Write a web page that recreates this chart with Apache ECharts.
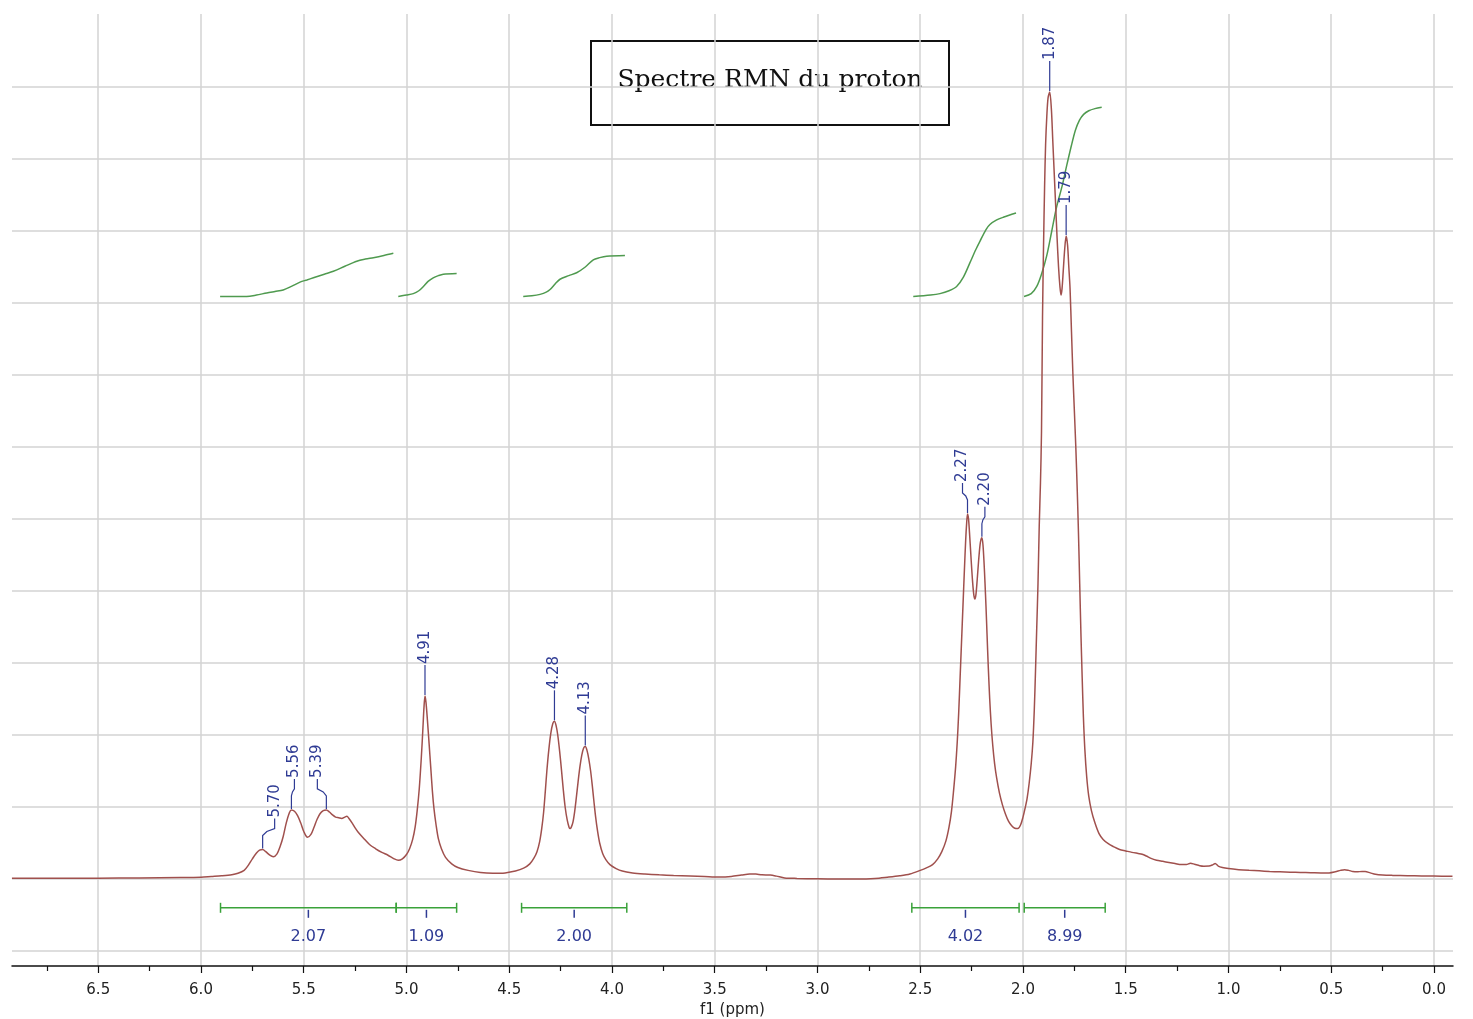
<!DOCTYPE html>
<html>
<head>
<meta charset="utf-8">
<title>Spectre RMN du proton</title>
<script src="https://cdn.jsdelivr.net/npm/echarts@6.0.0/dist/echarts.min.js"></script>
<style>
html, body { margin: 0; padding: 0; background: #ffffff; }
#chart { width: 1473px; height: 1019px; }
</style>
</head>
<body>
<div id="chart"></div>
<script>
// 1H spectrum trace: chemical shift (ppm) and intensity (one unit = one grid row)
const shift = [
  6.92, 6.70, 6.50, 6.30, 6.10, 6.00, 5.95, 5.90, 5.85, 5.82, 5.79, 5.77, 5.75, 5.73, 5.715, 5.70,
  5.685, 5.665, 5.648, 5.63, 5.615, 5.60, 5.585, 5.57, 5.56, 5.545, 5.53, 5.515, 5.50, 5.482, 5.465,
  5.45, 5.435, 5.42, 5.405, 5.39, 5.375, 5.36, 5.345, 5.33, 5.315, 5.30, 5.29, 5.28, 5.265, 5.25,
  5.235, 5.21, 5.18, 5.15, 5.12, 5.09, 5.06, 5.04, 5.02, 5.00, 4.985, 4.97, 4.958, 4.948, 4.938,
  4.928, 4.92, 4.915, 4.91, 4.905, 4.898, 4.89, 4.882, 4.874, 4.866, 4.856, 4.845, 4.83, 4.81, 4.78,
  4.75, 4.70, 4.64, 4.58, 4.52, 4.47, 4.43, 4.40, 4.38, 4.365, 4.352, 4.342, 4.333, 4.325, 4.317,
  4.308, 4.298, 4.288, 4.28, 4.272, 4.264, 4.255, 4.246, 4.237, 4.228, 4.218, 4.209, 4.204, 4.198,
  4.19, 4.182, 4.174, 4.165, 4.156, 4.147, 4.138, 4.13, 4.122, 4.113, 4.104, 4.096, 4.088, 4.08,
  4.07, 4.06, 4.045, 4.03, 4.01, 3.98, 3.95, 3.90, 3.84, 3.77, 3.70, 3.62, 3.55, 3.48, 3.42, 3.37,
  3.33, 3.30, 3.27, 3.23, 3.20, 3.16, 3.10, 3.00, 2.90, 2.80, 2.72, 2.66, 2.60, 2.55, 2.50, 2.47,
  2.44, 2.415, 2.395, 2.375, 2.36, 2.348, 2.338, 2.328, 2.32, 2.313, 2.306, 2.299, 2.292, 2.285,
  2.279, 2.274, 2.27, 2.265, 2.259, 2.252, 2.245, 2.239, 2.234, 2.229, 2.223, 2.216, 2.209, 2.204,
  2.20, 2.195, 2.19, 2.185, 2.18, 2.175, 2.169, 2.162, 2.155, 2.147, 2.138, 2.128, 2.115, 2.10,
  2.085, 2.07, 2.055, 2.04, 2.025, 2.012, 2.00, 1.99, 1.98, 1.97, 1.96, 1.952, 1.945, 1.939, 1.933,
  1.927, 1.921, 1.915, 1.91, 1.905, 1.90, 1.895, 1.89, 1.884, 1.878, 1.87, 1.862, 1.855, 1.848,
  1.841, 1.834, 1.827, 1.82, 1.815, 1.81, 1.804, 1.797, 1.79, 1.783, 1.777, 1.771, 1.764, 1.757,
  1.75, 1.743, 1.736, 1.73, 1.724, 1.718, 1.712, 1.706, 1.699, 1.69, 1.68, 1.667, 1.65, 1.63, 1.61,
  1.585, 1.56, 1.53, 1.50, 1.47, 1.44, 1.42, 1.40, 1.38, 1.35, 1.32, 1.29, 1.26, 1.23, 1.205, 1.185,
  1.165, 1.14, 1.12, 1.095, 1.075, 1.065, 1.05, 1.03, 1.00, 0.95, 0.90, 0.85, 0.80, 0.75, 0.70,
  0.65, 0.60, 0.55, 0.51, 0.48, 0.455, 0.435, 0.415, 0.395, 0.375, 0.35, 0.335, 0.31, 0.285, 0.25,
  0.20, 0.13, 0.06, 0.00, -0.09
];
const signal = [
  0.01, 0.01, 0.012, 0.015, 0.02, 0.025, 0.035, 0.045, 0.06, 0.08, 0.12, 0.19, 0.28, 0.36, 0.40, 0.41,
  0.38, 0.33, 0.31, 0.35, 0.45, 0.59, 0.78, 0.92, 0.96, 0.94, 0.88, 0.78, 0.66, 0.58, 0.62,
  0.72, 0.83, 0.91, 0.95, 0.96, 0.93, 0.89, 0.86, 0.85, 0.84, 0.86, 0.87, 0.84, 0.78, 0.71,
  0.65, 0.57, 0.48, 0.42, 0.37, 0.33, 0.28, 0.26, 0.28, 0.34, 0.42, 0.55, 0.72, 0.95, 1.25,
  1.68, 2.10, 2.38, 2.54, 2.45, 2.20, 1.88, 1.55, 1.22, 0.97, 0.75, 0.56, 0.42, 0.30, 0.21,
  0.16, 0.12, 0.09, 0.08, 0.085, 0.11, 0.15, 0.21, 0.29, 0.38, 0.52, 0.70, 0.92, 1.20, 1.50,
  1.78, 2.02, 2.16, 2.19, 2.13, 2.00, 1.78, 1.52, 1.24, 1.00, 0.82, 0.72, 0.70, 0.72,
  0.79, 0.93, 1.12, 1.35, 1.56, 1.72, 1.82, 1.84, 1.79, 1.67, 1.50, 1.30, 1.08, 0.87,
  0.66, 0.50, 0.35, 0.27, 0.20, 0.145, 0.11, 0.085, 0.07, 0.058, 0.05, 0.042, 0.035, 0.028, 0.035, 0.055,
  0.07, 0.068, 0.058, 0.055, 0.04, 0.015, 0.008, 0.003, 0.0, 0.0, 0.008, 0.025, 0.045, 0.07, 0.12, 0.155,
  0.20, 0.28, 0.38, 0.53, 0.72, 0.94, 1.22, 1.55, 1.90, 2.30, 2.80, 3.30, 3.80, 4.30,
  4.70, 4.95, 5.07, 5.00, 4.75, 4.42, 4.12, 3.94, 3.89, 3.95, 4.15, 4.42, 4.64, 4.72,
  4.74, 4.65, 4.42, 4.12, 3.78, 3.40, 2.95, 2.50, 2.15, 1.85, 1.60, 1.40, 1.20, 1.03,
  0.90, 0.80, 0.74, 0.705, 0.70, 0.75, 0.86, 0.98, 1.12, 1.33, 1.60, 1.90, 2.35, 2.90, 3.50,
  4.10, 4.90, 5.50, 6.20, 7.80, 8.80, 9.60, 10.20, 10.60, 10.85, 10.93, 10.70, 10.25, 9.80,
  9.35, 8.90, 8.50, 8.22, 8.11, 8.20, 8.45, 8.75, 8.93, 8.80, 8.50, 8.20, 7.60, 7.00,
  6.50, 6.00, 5.40, 4.80, 4.10, 3.40, 2.80, 2.25, 1.80, 1.42, 1.15, 0.95, 0.78, 0.63, 0.55,
  0.49, 0.45, 0.41, 0.39, 0.37, 0.355, 0.345, 0.32, 0.29, 0.26, 0.245, 0.23, 0.215, 0.20, 0.20, 0.22,
  0.205, 0.185, 0.178, 0.18, 0.20, 0.215, 0.18, 0.16, 0.145, 0.13, 0.12, 0.113, 0.105, 0.10, 0.095,
  0.09, 0.088, 0.085, 0.085, 0.10, 0.12, 0.13, 0.12, 0.105, 0.10, 0.105, 0.105, 0.085, 0.065, 0.055,
  0.05, 0.046, 0.042, 0.04, 0.037
];

// Picked peaks (ppm)
const peakShifts = [5.70, 5.56, 5.39, 4.91, 4.28, 4.13, 2.27, 2.20, 1.87, 1.79];

// Integral curves (ppm / level), segments separated by null
const integralShift = [
  5.907, 5.85, 5.778, 5.73, 5.68, 5.64, 5.60, 5.56, 5.518, 5.485, 5.453, 5.40, 5.356, 5.30, 5.242, 5.20, 5.161, 5.11, 5.064, null,
  5.04, 5.00, 4.967, 4.94, 4.918, 4.895, 4.87, 4.845, 4.821, 4.756, null,
  4.432, 4.39, 4.35, 4.32, 4.30, 4.275, 4.253, 4.21, 4.172, 4.13, 4.091, 4.06, 4.026, 3.937, null,
  2.534, 2.45, 2.404, 2.36, 2.323, 2.29, 2.258, 2.23, 2.209, 2.18, 2.161, 2.13, 2.096, 2.034, null,
  1.995, 1.96, 1.933, 1.91, 1.885, 1.86, 1.836, 1.81, 1.788, 1.765, 1.745, 1.725, 1.705, 1.68, 1.65, 1.617
];
const integralLevel = [
  8.09, 8.09, 8.09, 8.11, 8.14, 8.16, 8.18, 8.23, 8.29, 8.32, 8.35, 8.40, 8.44, 8.51, 8.58, 8.61, 8.63, 8.66, 8.69, null,
  8.09, 8.11, 8.13, 8.17, 8.23, 8.30, 8.35, 8.38, 8.40, 8.41, null,
  8.09, 8.10, 8.12, 8.15, 8.19, 8.27, 8.33, 8.38, 8.42, 8.50, 8.60, 8.63, 8.65, 8.66, null,
  8.09, 8.11, 8.13, 8.17, 8.23, 8.36, 8.56, 8.74, 8.86, 9.02, 9.09, 9.15, 9.19, 9.25, null,
  8.09, 8.13, 8.23, 8.40, 8.65, 9.00, 9.34, 9.62, 9.90, 10.18, 10.40, 10.54, 10.62, 10.67, 10.70, 10.72
];

// Integration ranges and their relative areas
const integFrom = [5.905, 5.05, 4.44, 2.541, 1.994];
const integTo   = [5.05, 4.756, 3.928, 2.019, 1.600];
const integArea = ['2.07', '1.09', '2.00', '4.02', '8.99'];

// Axis ticks
const majorTicks = [0, 0.5, 1.0, 1.5, 2.0, 2.5, 3.0, 3.5, 4.0, 4.5, 5.0, 5.5, 6.0, 6.5];
const minorTicks = [0.25, 0.75, 1.25, 1.75, 2.25, 2.75, 3.25, 3.75, 4.25, 4.75, 5.25, 5.75, 6.25, 6.75];
const gridRows = [-1, 0, 1, 2, 3, 4, 5, 6, 7, 8, 9, 10, 11];

// ---- layout and styling ----
const X_MIN = -0.0925, X_MAX = 6.9197;
const Y_MIN = -1.2083, Y_MAX = 12.0139;
const BAR_LEVEL = -0.40;
const TRACE = '#a0504d';
const INTEG = '#4f9a4f';
const BAR = '#3aa23a';
const BLUE = '#2f3b94';
const SANS = '"DejaVu Sans", Verdana, sans-serif';
// sideways offset (px) of crowded peak labels
const labelNudge = { '5.70': 12, '5.56': 3, '5.39': -9, '2.27': -5, '2.20': 3 };

const spectrum = shift.map((s, i) => [s, signal[i]]);
const integrals = integralShift.map((s, i) => s === null ? [null, null] : [s, integralLevel[i]]);
const peaks = peakShifts.map(p => {
  const i = shift.findIndex(s => Math.abs(s - p) < 1e-9);
  return [p, signal[i]];
});
const ranges = integFrom.map((f, i) => [f, integTo[i]]);

const chart = echarts.init(document.getElementById('chart'), null, { renderer: 'canvas' });

chart.setOption({
  animation: false,
  backgroundColor: '#ffffff',
  grid: { left: 12, right: 20, top: 14, bottom: 53, containLabel: false, outerBoundsMode: 'none' },
  xAxis: [
    {
      type: 'value', min: X_MIN, max: X_MAX, inverse: true, position: 'bottom',
      name: 'f1 (ppm)', nameLocation: 'middle', nameGap: 34,
      nameTextStyle: { color: '#222', fontSize: 15, fontFamily: SANS },
      axisLine: { show: true, onZero: false, lineStyle: { color: '#111', width: 1.5 } },
      axisTick: { show: true, customValues: majorTicks, length: 7, lineStyle: { color: '#111', width: 1.2 } },
      axisLabel: {
        customValues: majorTicks, margin: 17, color: '#222', fontSize: 15, fontFamily: SANS,
        formatter: v => v.toFixed(1)
      },
      splitLine: { show: true, lineStyle: { color: '#d3d3d3', width: 1.5 } }
    },
    {
      type: 'value', min: X_MIN, max: X_MAX, inverse: true, position: 'bottom',
      axisLine: { show: false, onZero: false },
      axisTick: { show: true, customValues: minorTicks, length: 5, lineStyle: { color: '#111', width: 1.2 } },
      axisLabel: { show: false },
      splitLine: { show: false }
    }
  ],
  yAxis: {
    type: 'value', min: Y_MIN, max: Y_MAX,
    axisLine: { show: false },
    axisTick: { show: false, customValues: gridRows },
    axisLabel: { show: false, customValues: gridRows },
    splitLine: { show: true, lineStyle: { color: '#d3d3d3', width: 1.5 } }
  },
  graphic: [{
    type: 'group', left: 590, top: 40, z: 100,
    children: [
      { type: 'rect', shape: { x: 0, y: 0, width: 358, height: 84 },
        style: { fill: '#ffffff', stroke: '#111', lineWidth: 2 } },
      { type: 'text', x: 179, y: 39,
        style: { text: 'Spectre RMN du proton', fill: '#111', font: '25px "DejaVu Serif", serif',
                 align: 'center', verticalAlign: 'middle' } }
    ]
  }],
  series: [
    {
      name: 'integral', type: 'line', data: integrals, xAxisIndex: 0,
      showSymbol: false, smooth: 0.3, connectNulls: false,
      lineStyle: { color: INTEG, width: 1.5 }, z: 3
    },
    {
      name: 'spectrum', type: 'line', data: spectrum, xAxisIndex: 0,
      showSymbol: false, smooth: 0.3,
      lineStyle: { color: TRACE, width: 1.5 }, z: 4
    },
    {
      name: 'peaks', type: 'custom', data: peaks, xAxisIndex: 0,
      encode: { x: 0, y: 1 }, z: 5, clip: false,
      renderItem: (params, api) => {
        const p = api.coord([api.value(0), api.value(1)]);
        const txt = api.value(0).toFixed(2);
        const dx = labelNudge[txt] || 0;
        const top = p[1] - 31;
        const pts = dx === 0
          ? [[p[0], p[1] - 1], [p[0], top]]
          : [[p[0], p[1] - 1], [p[0], p[1] - 14], [p[0] + dx * 0.35, p[1] - 18], [p[0] + dx, p[1] - 21], [p[0] + dx, top]];
        return {
          type: 'group',
          children: [
            { type: 'polyline', shape: { points: pts }, style: { stroke: BLUE, lineWidth: 1.2, fill: null } },
            { type: 'text', x: p[0] + dx, y: top - 1, rotation: Math.PI / 2,
              style: { text: txt, fill: BLUE, font: '15px ' + SANS, align: 'left', verticalAlign: 'middle' } }
          ]
        };
      }
    },
    {
      name: 'ranges', type: 'custom', data: ranges, xAxisIndex: 0,
      encode: { x: [0, 1] }, z: 5, clip: false,
      renderItem: (params, api) => {
        const a = api.coord([api.value(0), BAR_LEVEL]);
        const b = api.coord([api.value(1), BAR_LEVEL]);
        const m = api.coord([(api.value(0) + api.value(1)) / 2, BAR_LEVEL]);
        const ln = (x1, y1, x2, y2, c, w) => ({ type: 'line', shape: { x1, y1, x2, y2 }, style: { stroke: c, lineWidth: w } });
        return {
          type: 'group',
          children: [
            ln(a[0], a[1], b[0], b[1], BAR, 1.5),
            ln(a[0], a[1] - 5, a[0], a[1] + 5, BAR, 1.5),
            ln(b[0], b[1] - 5, b[0], b[1] + 5, BAR, 1.5),
            ln(m[0], m[1] + 2, m[0], m[1] + 10, BLUE, 1.5),
            { type: 'text', x: m[0], y: m[1] + 29,
              style: { text: integArea[params.dataIndex], fill: BLUE, font: '16px ' + SANS,
                       align: 'center', verticalAlign: 'middle' } }
          ]
        };
      }
    }
  ]
});
</script>
</body>
</html>
